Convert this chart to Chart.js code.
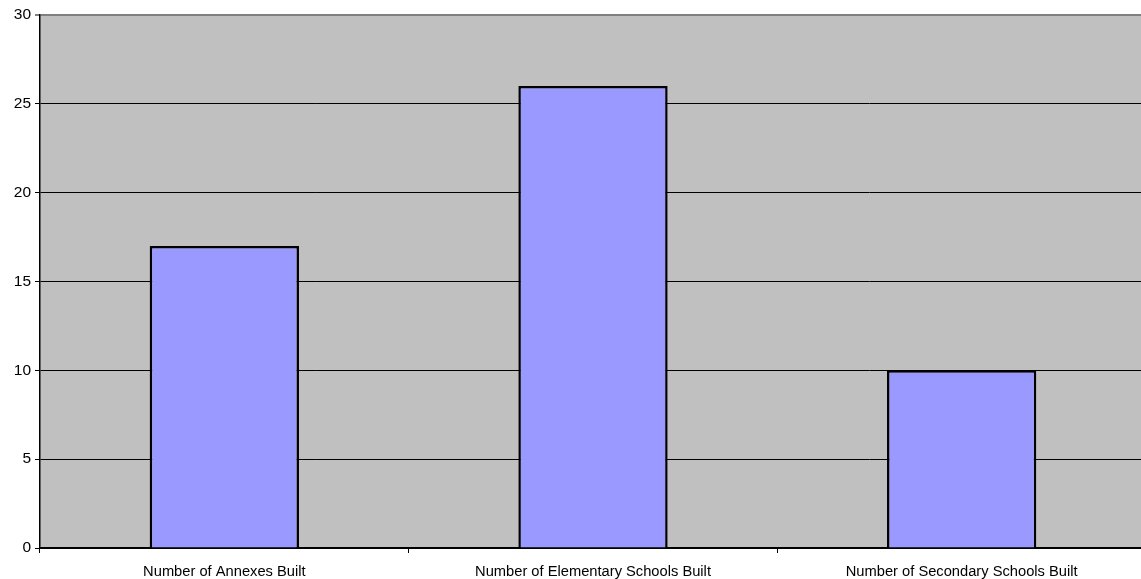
<!DOCTYPE html>
<html>
<head>
<meta charset="utf-8">
<script src="https://cdn.jsdelivr.net/npm/chart.js@4"></script>
<style>
html,body{margin:0;padding:0;background:#fff;overflow:hidden;}
#wrap{width:1141px;height:579px;overflow:hidden;}
</style>
</head>
<body>
<div id="wrap"><canvas id="c" width="1146" height="579"></canvas></div>
<script>
const categories = ["Number of Annexes Built", "Number of Elementary Schools Built", "Number of Secondary Schools Built"];
const values = [17, 26, 10];
const yTicks = [0, 5, 10, 15, 20, 25, 30];

const bgPlugin = {
  id: 'plotBg',
  beforeDraw(chart) {
    const {ctx, chartArea: a} = chart;
    ctx.save();
    ctx.fillStyle = '#C0C0C0';
    ctx.fillRect(a.left, a.top, a.right - a.left, a.bottom - a.top);
    ctx.restore();
  }
};

new Chart(document.getElementById('c'), {
  type: 'bar',
  data: {
    labels: categories,
    datasets: [{
      data: values,
      backgroundColor: '#9999FF',
      borderColor: '#000000',
      borderWidth: 2.5,
      categoryPercentage: 0.405,
      barPercentage: 1.0
    }]
  },
  options: {
    responsive: false,
    animation: false,
    devicePixelRatio: 1,
    layout: { padding: { top: 15, right: 0, left: 0, bottom: 0 } },
    plugins: { legend: { display: false }, tooltip: { enabled: false } },
    scales: {
      x: {
        offset: true,
        grid: { offset: true, drawOnChartArea: false, color: '#000', tickLength: 5, lineWidth: 1 },
        border: { color: '#000', width: 2 },
        ticks: { color: '#000', font: { family: 'Liberation Sans, Arial', size: 14.7 }, padding: 10, maxRotation: 0, autoSkip: false },
        afterFit(s) { s.height = 31; }
      },
      y: {
        min: 0, max: 30,
        afterBuildTicks(s) { s.ticks = yTicks.map(v => ({ value: v })); },
        grid: {
          color: ctx => (ctx.tick && ctx.tick.value === 30) ? '#808080' : '#000',
          lineWidth: ctx => (ctx.tick && ctx.tick.value === 30) ? 2 : 1,
          tickLength: 5
        },
        border: { color: '#000', width: 1.5 },
        ticks: { color: '#000', font: { family: 'Liberation Sans, Arial', size: 15.5 }, padding: 4 },
        afterFit(s) { s.width = 40; }
      }
    }
  },
  plugins: [bgPlugin]
});
</script>
</body>
</html>
